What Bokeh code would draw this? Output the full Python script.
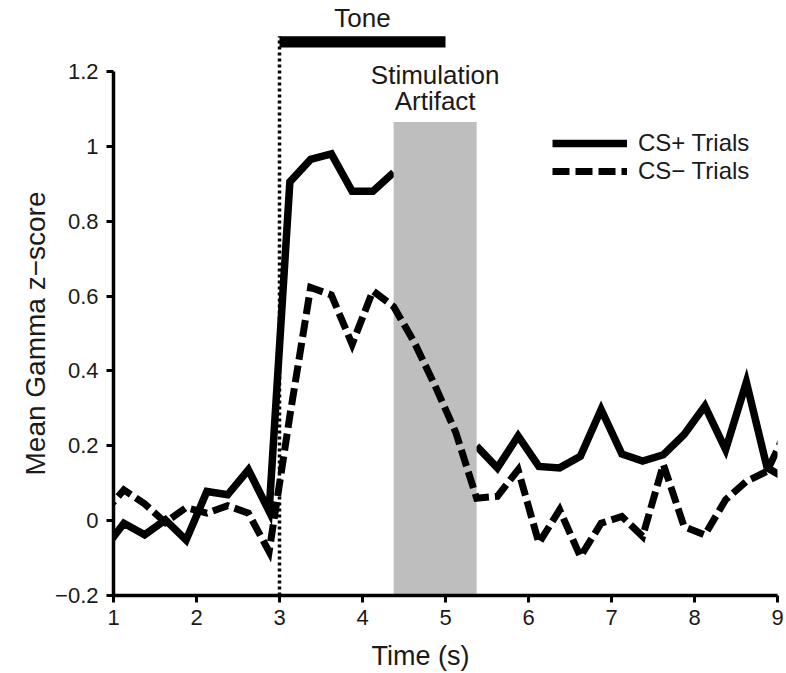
import math
import numpy as np
from bokeh.plotting import figure
from bokeh.layouts import row, column
from bokeh.models import Range1d, FixedTicker, Legend, LegendItem
from bokeh.core.properties import value
from bokeh.embed import file_html
from bokeh.resources import INLINE

# ---------------- data ----------------
time_s = [0.875, 1.125, 1.375, 1.625, 1.875, 2.125, 2.375, 2.625, 2.875,
          3.125, 3.375, 3.625, 3.875, 4.125, 4.375, 4.625, 4.875, 5.125,
          5.375, 5.625, 5.875, 6.125, 6.375, 6.625, 6.875, 7.125, 7.375,
          7.625, 7.875, 8.125, 8.375, 8.625, 8.875, 9.125]

cs_plus = [-0.080, -0.007, -0.038, 0.002, -0.052, 0.078, 0.069, 0.136, 0.025,
           0.905, 0.965, 0.980, 0.880, 0.880, 0.930, np.nan, np.nan, np.nan,
           0.199, 0.141, 0.226, 0.145, 0.141, 0.172, 0.297, 0.178, 0.159,
           0.176, 0.230, 0.306, 0.190, 0.370, 0.141, 0.110]

cs_minus = [0.018, 0.082, 0.045, -0.005, 0.035, 0.020, 0.040, 0.020, -0.083,
            0.280, 0.623, 0.603, 0.471, 0.614, 0.572, 0.476, 0.360, 0.235,
            0.060, 0.065, 0.136, -0.060, 0.029, -0.096, -0.007, 0.011, -0.042,
            0.150, -0.016, -0.038, 0.056, 0.105, 0.132, 0.250]

tone_start, tone_end = 3.0, 5.0
stim_start, stim_end = 4.375, 5.375
stim_top = 1.065

x_ticks = [1, 2, 3, 4, 5, 6, 7, 8, 9]
y_ticks = [-0.2, 0, 0.2, 0.4, 0.6, 0.8, 1, 1.2]
y_tick_labels = ["\u22120.2", "0", "0.2", "0.4", "0.6", "0.8", "1", "1.2"]

series_labels = ["CS+ Trials", "CS\u2212 Trials"]
x_title = "Time (s)"
y_title = "Mean Gamma z\u2212score"

FONT = "Liberation Sans"
TXT = "#1a1a1a"

LEFT_W = 52
MAIN_W = 732
MAIN_H = 635
BOTTOM_H = 36
FRAME_BOTTOM = 595

xr = Range1d(1, 9)
yr = Range1d(-0.2, 1.3897)


def blank(fig):
    fig.outline_line_color = None
    fig.grid.visible = False
    fig.background_fill_color = "white"
    fig.border_fill_color = "white"
    return fig


# ---------------- main figure ----------------
p = blank(figure(width=MAIN_W, height=MAIN_H, output_backend="svg",
                 toolbar_location=None, x_range=xr, y_range=yr,
                 min_border_left=61, min_border_right=7, min_border_top=0,
                 min_border_bottom=MAIN_H - FRAME_BOTTOM))

r_plus = p.line(time_s, cs_plus, line_color="black", line_width=7.5,
                line_join="miter")
p.quad(left=[stim_start], right=[stim_end], bottom=[-0.2], top=[stim_top],
       fill_color="#bebebe", line_color=None)
r_minus = p.line(time_s, cs_minus, line_color="black", line_width=7,
                 line_dash="17 6", line_join="miter")

# tone bar and onset line
p.quad(left=[tone_start], right=[tone_end], bottom=[1.264], top=[1.294],
       fill_color="black", line_color=None)
p.line([tone_start, tone_start], [-0.2, 1.294], line_color="black",
       line_width=3.5, line_dash="3 3")

p.text(x=[(tone_start + tone_end) / 2], y=[1.342], text=["Tone"],
       text_font=value(FONT), text_font_size="26px", text_color=TXT,
       text_align="center", text_baseline="middle")
p.text(x=[(stim_start + stim_end) / 2, (stim_start + stim_end) / 2],
       y=[1.19, 1.12], text=["Stimulation", "Artifact"],
       text_font=value(FONT), text_font_size="26px", text_color=TXT,
       text_align="center", text_baseline="middle")

for ax in (p.xaxis[0], p.yaxis[0]):
    ax.axis_line_width = 3.5
    ax.axis_line_color = "black"
    ax.major_tick_line_width = 3
    ax.major_tick_line_color = "black"
    ax.major_tick_out = 7
    ax.major_tick_in = 0
    ax.minor_tick_out = 0
    ax.minor_tick_in = 0
    ax.major_label_text_font = FONT
    ax.major_label_text_font_size = "22px"
    ax.major_label_text_color = TXT

p.xaxis.ticker = FixedTicker(ticks=x_ticks)
p.xaxis.bounds = (1, 9)
p.xaxis.major_label_standoff = 7

p.yaxis.ticker = FixedTicker(ticks=y_ticks)
p.yaxis.bounds = (-0.2, 1.2)
p.yaxis.major_label_overrides = dict(zip(y_ticks, y_tick_labels))
p.yaxis.major_label_standoff = 8

legend = Legend(items=[LegendItem(label=series_labels[0], renderers=[r_plus]),
                       LegendItem(label=series_labels[1], renderers=[r_minus])],
                location=(439, 410), glyph_width=75, glyph_height=20,
                label_height=20, label_standoff=11, spacing=0, padding=0,
                margin=0, border_line_color=None, background_fill_alpha=0,
                label_text_font=FONT, label_text_font_size="24px",
                label_text_color=TXT)
p.add_layout(legend)

# ---------------- y title strip (left) ----------------
pl = blank(figure(width=LEFT_W, height=MAIN_H + BOTTOM_H, output_backend="svg",
                  toolbar_location=None, x_range=Range1d(0, LEFT_W), y_range=yr,
                  x_axis_type=None, y_axis_type=None,
                  min_border_left=0, min_border_right=0, min_border_top=0,
                  min_border_bottom=MAIN_H + BOTTOM_H - FRAME_BOTTOM))
pl.text(x=[35], y=[0.5], text=[y_title], text_font=value(FONT),
        text_font_size="28px", text_color=TXT, text_align="center",
        text_baseline="middle", angle=math.pi / 2)

# ---------------- x title strip (bottom) ----------------
pb = blank(figure(width=MAIN_W, height=BOTTOM_H, output_backend="svg",
                  toolbar_location=None, x_range=xr, y_range=Range1d(0, BOTTOM_H),
                  x_axis_type=None, y_axis_type=None,
                  min_border_left=61, min_border_right=7, min_border_top=0,
                  min_border_bottom=0))
pb.text(x=[4.7], y=[16], text=[x_title], text_font=value(FONT),
        text_font_size="27px", text_color=TXT, text_align="center",
        text_baseline="middle")

layout = row(pl, column(p, pb, spacing=0), spacing=0)

open("out.html", "w").write(file_html(layout, INLINE))
